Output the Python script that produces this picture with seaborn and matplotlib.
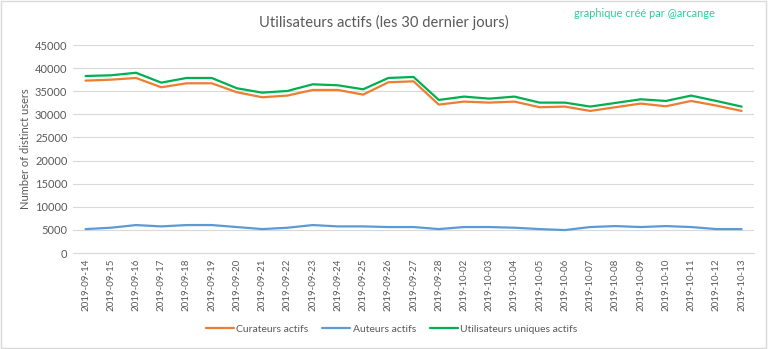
import matplotlib
matplotlib.use("Agg")
import matplotlib.pyplot as plt
import matplotlib.patches as mpatches
import seaborn as sns
import pandas as pd

dates = ["2019-09-14", "2019-09-15", "2019-09-16", "2019-09-17", "2019-09-18",
         "2019-09-19", "2019-09-20", "2019-09-21", "2019-09-22", "2019-09-23",
         "2019-09-24", "2019-09-25", "2019-09-26", "2019-09-27", "2019-09-28",
         "2019-10-02", "2019-10-03", "2019-10-04", "2019-10-05", "2019-10-06",
         "2019-10-07", "2019-10-08", "2019-10-09", "2019-10-10", "2019-10-11",
         "2019-10-12", "2019-10-13"]

curateurs = [37300, 37500, 37870, 35860, 36720, 36720, 34780, 33700, 34060, 35280,
             35280, 34270, 36940, 37150, 32110, 32760, 32540, 32760, 31540, 31680,
             30740, 31540, 32330, 31750, 32900, 31900, 30740]

auteurs = [5180, 5470, 6050, 5760, 6050, 6050, 5620, 5180, 5470, 6050,
           5760, 5760, 5620, 5620, 5180, 5620, 5620, 5470, 5180, 4970,
           5620, 5830, 5620, 5830, 5620, 5180, 5180]

uniques = [38300, 38450, 39000, 36860, 37870, 37870, 35640, 34700, 35060, 36500,
           36290, 35420, 37870, 38090, 33120, 33840, 33400, 33840, 32540, 32540,
           31680, 32470, 33260, 32900, 34060, 32900, 31680]

series_names = ["Curateurs actifs", "Auteurs actifs", "Utilisateurs uniques actifs"]
colors = ["#ED7D31", "#5B9BD5", "#00B050"]

df = pd.concat([
    pd.DataFrame({"date": dates, "value": vals, "series": name})
    for name, vals in zip(series_names, [curateurs, auteurs, uniques])
], ignore_index=True)

sns.set_theme(style="white")
plt.rcParams["font.family"] = ["Lato", "DejaVu Sans"]

fig = plt.figure(figsize=(7.68, 3.49), dpi=100)
ax = fig.add_axes([0.095, 0.275, 0.887, 0.596])

sns.lineplot(data=df, x="date", y="value", hue="series", hue_order=series_names,
             palette=colors, linewidth=1.6, sort=False, ax=ax, legend=True)

ax.set_xlim(-0.5, len(dates) - 0.5)
ax.set_ylim(0, 45000)
ax.set_yticks(range(0, 45001, 5000))
ax.set_yticklabels([str(v) for v in range(0, 45001, 5000)], fontsize=8, color="#595959")
ax.set_xticks(range(len(dates)))
ax.set_xticklabels(dates, rotation=90, fontsize=7, color="#595959")
ax.tick_params(axis="both", length=0, pad=4)
ax.grid(axis="y", color="#d9d9d9", linewidth=0.8)
ax.set_axisbelow(True)
for s in ["top", "right", "left"]:
    ax.spines[s].set_visible(False)
ax.spines["bottom"].set_color("#d9d9d9")
ax.spines["bottom"].set_linewidth(0.8)
ax.set_xlabel("")
ax.set_ylabel("Number of distinct users", fontsize=8, color="#595959", labelpad=3)

ax.legend_.remove()
handles = [plt.Line2D([0], [0], color=c, lw=1.6) for c in colors]
fig.legend(handles, series_names, loc="center", bbox_to_anchor=(0.51, 0.057),
           ncol=3, frameon=False, fontsize=7.5, handlelength=2.7, columnspacing=1.3,
           handletextpad=0.25, labelcolor="#595959")

fig.text(0.5, 0.937, "Utilisateurs actifs (les 30 dernier jours)", ha="center", va="center",
         fontsize=10.6, color="#595959")
fig.text(0.931, 0.962, "graphique créé par @arcange", ha="right", va="center",
         fontsize=7.9, color="#2ECC9A")

fig.patches.append(mpatches.Rectangle((0.001, 0.002), 0.997, 0.995, transform=fig.transFigure,
                                      fill=False, edgecolor="#d9d9d9", linewidth=1))

fig.savefig("out.png", dpi=100)
